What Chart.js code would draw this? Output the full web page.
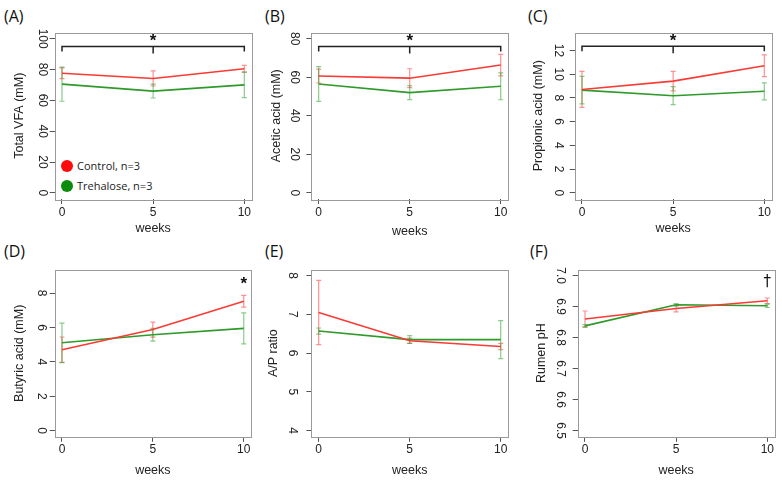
<!DOCTYPE html>
<html><head><meta charset="utf-8">
<script src="https://cdn.jsdelivr.net/npm/chart.js@4.4.0/dist/chart.umd.min.js"></script>
<style>
html,body{margin:0;padding:0;background:#fff;}
#wrap{position:relative;width:782px;height:482px;overflow:hidden;background:#fff;font-family:"Liberation Sans",Arial,sans-serif;}
canvas{position:absolute;}
.plab{position:absolute;font-size:16px;color:#111;line-height:16px;font-family:"Open Sans","Liberation Sans",sans-serif;}
.leg{position:absolute;font-size:11px;color:#222;display:flex;align-items:center;height:14px;line-height:14px;font-family:"Open Sans","Liberation Sans",sans-serif;}
.dot{display:inline-block;width:12px;height:12px;border-radius:50%;margin-right:4px;}
</style></head>
<body>
<div id="wrap">
  <div class="plab" style="left:4px;top:8px">(A)</div>
  <div class="plab" style="left:265px;top:8px">(B)</div>
  <div class="plab" style="left:528px;top:8px">(C)</div>
  <div class="plab" style="left:4px;top:243px">(D)</div>
  <div class="plab" style="left:265px;top:243px">(E)</div>
  <div class="plab" style="left:530px;top:243px">(F)</div>
  <div class="leg" style="left:61px;top:159px"><span class="dot" style="background:#ff0a0a"></span><span id="lg1"></span></div>
  <div class="leg" style="left:61px;top:179px"><span class="dot" style="background:#0b8c0b"></span><span id="lg2"></span></div>
</div>
<script>
// ---- data ----
const weeks = [0, 5, 10];
const weekTicks = [0, 5, 10];
const groupNames = ['Control, n=3', 'Trehalose, n=3'];

// (A) Total VFA (mM)
const vfaControl = [77.6, 74.2, 80.5];
const vfaControlErr = [3.5, 4.9, 2.2];
const vfaTrehalose = [70.5, 66.0, 70.0];
const vfaTrehaloseErr = [11.1, 4.5, 8.3];
const vfaTicks = [0, 20, 40, 60, 80, 100];

// (B) Acetic acid (mM)
const aceControl = [60.6, 59.5, 66.3];
const aceControlErr = [3.6, 4.9, 5.6];
const aceTrehalose = [56.5, 52.0, 55.3];
const aceTrehaloseErr = [9.0, 3.6, 7.0];
const aceTicks = [0, 20, 40, 60, 80];

// (C) Propionic acid (mM)
const proControl = [8.72, 9.42, 10.72];
const proControlErr = [1.52, 0.82, 0.92];
const proTrehalose = [8.66, 8.19, 8.56];
const proTrehaloseErr = [1.16, 0.76, 0.72];
const proTicks = [0, 2, 4, 6, 8, 10, 12];

// (D) Butyric acid (mM)
const butControl = [4.71, 5.88, 7.53];
const butControlErr = [0.74, 0.44, 0.34];
const butTrehalose = [5.11, 5.58, 5.95];
const butTrehaloseErr = [1.15, 0.37, 0.90];
const butTicks = [0, 2, 4, 6, 8];

// (E) A/P ratio
const apControl = [7.05, 6.32, 6.17];
const apControlErr = [0.83, 0.07, 0.08];
const apTrehalose = [6.57, 6.35, 6.35];
const apTrehaloseErr = [0.08, 0.10, 0.49];
const apTicks = [4, 5, 6, 7, 8];

// (F) Rumen pH
const phControl = [6.860, 6.894, 6.919];
const phControlErr = [0.026, 0.011, 0.009];
const phTrehalose = [6.838, 6.906, 6.903];
const phTrehaloseErr = [0.004, 0.004, 0.005];
const phTicks = [6.5, 6.6, 6.7, 6.8, 6.9, 7.0];
const phTickLabels = ['6.5', '6.6', '6.7', '6.8', '6.9', '7.0'];

document.getElementById('lg1').textContent = groupNames[0];
document.getElementById('lg2').textContent = groupNames[1];

// ---- styles ----
const RED = '#fa3a34', RED_ERR = 'rgba(255,70,70,0.6)';
const GREEN = '#2e9a2a', GREEN_ERR = 'rgba(40,160,40,0.55)';
const TXT = '#222';

const errPlugin = {
  id: 'errbars',
  beforeDatasetsDraw(chart) {
    const ctx = chart.ctx, xs = chart.scales.x, ys = chart.scales.y;
    chart.data.datasets.forEach(ds => {
      ctx.save();
      ctx.strokeStyle = ds.errColor; ctx.lineWidth = 1.2;
      ds.data.forEach((pt, i) => {
        const e = ds.errs[i];
        const px = xs.getPixelForValue(pt.x);
        const y1 = ys.getPixelForValue(pt.y + e), y2 = ys.getPixelForValue(pt.y - e);
        ctx.beginPath();
        ctx.moveTo(px, y1); ctx.lineTo(px, y2);
        ctx.moveTo(px - 2.5, y1); ctx.lineTo(px + 2.5, y1);
        ctx.moveTo(px - 2.5, y2); ctx.lineTo(px + 2.5, y2);
        ctx.stroke();
      });
      ctx.restore();
    });
  }
};
const boxPlugin = {
  id: 'rbox',
  afterDraw(chart) {
    const a = chart.chartArea, ctx = chart.ctx;
    ctx.save(); ctx.strokeStyle = '#9a9a9a'; ctx.lineWidth = 1;
    ctx.strokeRect(Math.round(a.left) + 0.5, Math.round(a.top) + 0.5, Math.round(a.right - a.left), Math.round(a.bottom - a.top));
    ctx.restore();
  }
};
const sigPlugin = {
  id: 'sig',
  afterDatasetsDraw(chart, args, o) {
    if (!o || !o.mark) return;
    const ctx = chart.ctx, xs = chart.scales.x, ys = chart.scales.y;
    ctx.save();
    ctx.strokeStyle = '#222'; ctx.fillStyle = '#111'; ctx.lineWidth = 1.5;
    if (o.bracket != null) {
      const by = ys.getPixelForValue(o.bracket);
      const x0 = xs.getPixelForValue(0), x1 = xs.getPixelForValue(10), xm = xs.getPixelForValue(5);
      ctx.beginPath();
      ctx.moveTo(x0, by + 5); ctx.lineTo(x0, by); ctx.lineTo(x1, by); ctx.lineTo(x1, by + 5);
      ctx.moveTo(xm, by); ctx.lineTo(xm, by + 7);
      ctx.stroke();
      ctx.font = 'bold 17px "Liberation Sans"';
      ctx.textAlign = 'center'; ctx.textBaseline = 'middle';
      ctx.fillText(o.mark, xm, by - 5);
    } else {
      ctx.font = o.mark === '*' ? 'bold 17px "Liberation Sans"' : '15px "DejaVu Sans"';
      ctx.textAlign = 'center'; ctx.textBaseline = 'middle';
      ctx.fillText(o.mark, xs.getPixelForValue(o.markX), ys.getPixelForValue(o.markY));
    }
    ctx.restore();
  }
};

const panels = [
  {cx:0, cy:0, cw:260, ch:240, yw:54.7, xh:41, padTop:32.5, padRight:8.4, ymin:-4, ymax:104,
   yt:vfaTicks, ytl:vfaTicks.map(String), ytp:-2.5, ttp:12.5, xtp:4, title:'Total VFA (mM)',
   c:vfaControl, ce:vfaControlErr, t:vfaTrehalose, te:vfaTrehaloseErr, sig:{bracket:95, mark:'*'}},
  {cx:260, cy:0, cw:260, ch:240, yw:51.4, xh:41, padTop:32.5, padRight:12, ymin:-3.2, ymax:83.2,
   yt:aceTicks, ytl:aceTicks.map(String), ytp:5.5, ttp:9.2, xtp:1, title:'Acetic acid (mM)',
   c:aceControl, ce:aceControlErr, t:aceTrehalose, te:aceTrehaloseErr, sig:{bracket:76, mark:'*'}},
  {cx:520, cy:0, cw:262, ch:240, yw:54.7, xh:41, padTop:32.5, padRight:10.4, ymin:-0.52, ymax:13.52,
   yt:proTicks, ytl:proTicks.map(String), ytp:4.6, ttp:11.5, xtp:4, title:'Propionic acid (mM)',
   c:proControl, ce:proControlErr, t:proTrehalose, te:proTrehaloseErr, sig:{bracket:12.36, mark:'*'}},
  {cx:0, cy:240, cw:260, ch:242, yw:54.7, xh:45.2, padTop:29.8, padRight:9, ymin:-0.36, ymax:9.36,
   yt:butTicks, ytl:butTicks.map(String), ytp:5, ttp:12.5, xtp:4, title:'Butyric acid (mM)',
   c:butControl, ce:butControlErr, t:butTrehalose, te:butTrehaloseErr, sig:{mark:'*', markX:10, markY:8.49}},
  {cx:260, cy:240, cw:260, ch:242, yw:51.4, xh:45.2, padTop:29.5, padRight:12, ymin:3.84, ymax:8.16,
   yt:apTicks, ytl:apTicks.map(String), ytp:11, ttp:6.5, xtp:4, title:'A/P ratio',
   c:apControl, ce:apControlErr, t:apTrehalose, te:apTrehaloseErr, sig:{}},
  {cx:520, cy:240, cw:262, ch:242, yw:57.7, xh:45.2, padTop:29.5, padRight:7.4, ymin:6.48, ymax:7.02,
   yt:phTicks, ytl:phTickLabels, ytp:3.7, ttp:14.2, xtp:4, title:'Rumen pH',
   c:phControl, ce:phControlErr, t:phTrehalose, te:phTrehaloseErr, sig:{mark:'\u2020', markX:10, markY:6.979}}
];

const wrap = document.getElementById('wrap');
const tickFont = {family:'"Liberation Sans", Arial, sans-serif', size:12};
const titleFont = {family:'"Liberation Sans", Arial, sans-serif', size:12.5};
const gridOpts = {display:true, drawOnChartArea:false, drawTicks:true, tickLength:5, color:'#555', lineWidth:1};

panels.forEach(p => {
  const cv = document.createElement('canvas');
  cv.width = p.cw; cv.height = p.ch;
  cv.style.left = p.cx + 'px'; cv.style.top = p.cy + 'px';
  cv.style.width = p.cw + 'px'; cv.style.height = p.ch + 'px';
  wrap.appendChild(cv);
  new Chart(cv.getContext('2d'), {
    type: 'line',
    data: {datasets: [
      {label: groupNames[0], data: weeks.map((w, i) => ({x: w, y: p.c[i]})), errs: p.ce, errColor: RED_ERR,
       borderColor: RED, borderWidth: 1.6, pointRadius: 0, fill: false, tension: 0},
      {label: groupNames[1], data: weeks.map((w, i) => ({x: w, y: p.t[i]})), errs: p.te, errColor: GREEN_ERR,
       borderColor: GREEN, borderWidth: 1.6, pointRadius: 0, fill: false, tension: 0}
    ]},
    options: {
      responsive: false, animation: false, devicePixelRatio: 1,
      layout: {padding: {top: p.padTop, right: p.padRight, left: 0, bottom: 0}},
      plugins: {legend: {display: false}, tooltip: {enabled: false}, sig: p.sig},
      scales: {
        x: {type: 'linear', min: -0.4, max: 10.4,
            afterBuildTicks: s => { s.ticks = weekTicks.map(v => ({value: v})); },
            afterFit: s => { s.height = p.xh; },
            ticks: {font: tickFont, color: TXT, padding: 1, maxRotation: 0, minRotation: 0, callback: (v, i) => String(weekTicks[i])},
            grid: gridOpts, border: {display: false},
            title: {display: true, text: 'weeks', font: titleFont, color: TXT, padding: {top: 0, bottom: p.xtp}}},
        y: {type: 'linear', min: p.ymin, max: p.ymax,
            afterBuildTicks: s => { s.ticks = p.yt.map(v => ({value: v})); },
            afterFit: s => { s.width = p.yw; },
            ticks: {font: tickFont, color: TXT, padding: p.ytp, minRotation: -90, maxRotation: -90, crossAlign: 'center', callback: (v, i) => p.ytl[i]},
            grid: gridOpts, border: {display: false},
            title: {display: true, text: p.title, font: titleFont, color: TXT, padding: {top: p.ttp, bottom: 0}}}
      }
    },
    plugins: [errPlugin, boxPlugin, sigPlugin]
  });
});
</script>
</body></html>
